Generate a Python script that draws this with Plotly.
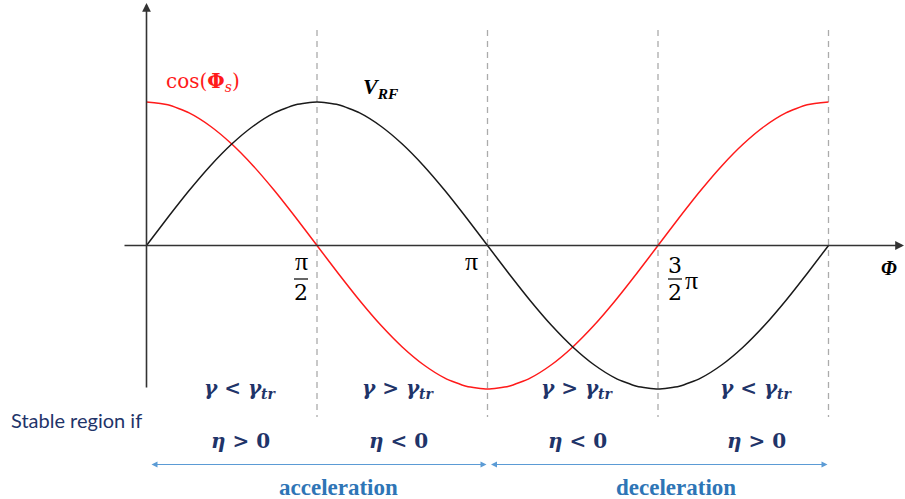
import plotly.graph_objects as go

# Phase samples in units of pi (0 .. 2pi, step pi/16)
phase = [0, 0.0625, 0.125, 0.1875, 0.25, 0.3125, 0.375, 0.4375, 0.5,
         0.5625, 0.625, 0.6875, 0.75, 0.8125, 0.875, 0.9375, 1.0,
         1.0625, 1.125, 1.1875, 1.25, 1.3125, 1.375, 1.4375, 1.5,
         1.5625, 1.625, 1.6875, 1.75, 1.8125, 1.875, 1.9375, 2.0]
# RF voltage (normalised)
v_rf = [0, 0.195, 0.383, 0.556, 0.707, 0.831, 0.924, 0.981, 1,
        0.981, 0.924, 0.831, 0.707, 0.556, 0.383, 0.195, 0,
        -0.195, -0.383, -0.556, -0.707, -0.831, -0.924, -0.981, -1,
        -0.981, -0.924, -0.831, -0.707, -0.556, -0.383, -0.195, 0]
# cos of synchronous phase
cos_phi = [1, 0.981, 0.924, 0.831, 0.707, 0.556, 0.383, 0.195, 0,
           -0.195, -0.383, -0.556, -0.707, -0.831, -0.924, -0.981, -1,
           -0.981, -0.924, -0.831, -0.707, -0.556, -0.383, -0.195, 0,
           0.195, 0.383, 0.556, 0.707, 0.831, 0.924, 0.981, 1]

# Boundaries of the four phase regions (units of pi)
region_edges = [0.5, 1.0, 1.5, 2.0]
gamma_labels = ["<", ">", ">", "<"]
eta_labels = [">", "<", "<", ">"]

W, H = 905, 499
X0, XS = 146.5, 341.0      # pixel of phase 0, pixels per pi
Y0, YS = 245.5, 143.5      # pixel of zero, pixels per unit

def px_x(p):
    return (p - X0) / XS

def px_y(p):
    return (Y0 - p) / YS

NAVY = "#1f3469"
BLUE_TXT = "#2e75b6"
BLUE_LN = "#5b9bd5"
SERIF = "Liberation Serif"
MATH = "DejaVu Serif"

fig = go.Figure()
fig.add_trace(go.Scatter(x=phase, y=cos_phi, mode="lines",
                         line=dict(color="#ff1a1a", width=1.5, shape="spline", smoothing=0.6),
                         hoverinfo="skip"))
fig.add_trace(go.Scatter(x=phase, y=v_rf, mode="lines",
                         line=dict(color="#1a1a1a", width=1.5, shape="spline", smoothing=0.6),
                         hoverinfo="skip"))

shapes = []
# dashed region separators
for e in region_edges:
    shapes.append(dict(type="line", xref="x", yref="y", x0=e, x1=e,
                       y0=px_y(30), y1=px_y(417),
                       line=dict(color="#ababab", width=1.3, dash="6px,5px"), layer="below"))
# fraction bars for pi/2 and 3/2 pi
shapes.append(dict(type="line", xref="x", yref="y", x0=px_x(294), x1=px_x(308),
                   y0=px_y(279), y1=px_y(279), line=dict(color="#000", width=1.2)))
shapes.append(dict(type="line", xref="x", yref="y", x0=px_x(668), x1=px_x(682),
                   y0=px_y(279), y1=px_y(279), line=dict(color="#000", width=1.2)))

ann = []
# axes with arrow heads
ann.append(dict(x=px_x(904), y=0, xref="x", yref="y", ax=-781, ay=0, text="",
                showarrow=True, arrowhead=2, arrowsize=1.1, arrowwidth=1.6, arrowcolor="#333"))
ann.append(dict(x=0, y=px_y(3), xref="x", yref="y", ax=0, ay=386, text="",
                showarrow=True, arrowhead=2, arrowsize=1.1, arrowwidth=1.6, arrowcolor="#333"))

def label(x, y, text, size, color="#000", family=MATH):
    ann.append(dict(x=px_x(x), y=px_y(y), xref="x", yref="y", text=text, showarrow=False,
                    font=dict(family=family, size=size, color=color),
                    xanchor="center", yanchor="middle"))

# curve labels
label(203, 82, "cos(<b>Φ</b><sub><i>s</i></sub>)", 20, "#ff1a1a")
label(381, 88, "<b><i>V</i><sub><i>RF</i></sub></b>", 22, "#000", SERIF)
# axis labels
label(301, 261, "π", 26, "#000", SERIF)
label(301, 292, "2", 22)
label(471, 261, "π", 26, "#000", SERIF)
label(675, 265, "3", 22)
label(675, 292, "2", 22)
label(691, 280, "π", 26, "#000", SERIF)
label(889, 268, "<b><i>Φ</i></b>", 20, "#000", SERIF)

# stability conditions per region
centers = [240, 398, 577, 756]
for c, g, e in zip(centers, gamma_labels, eta_labels):
    label(c, 389, "<b><i>γ</i> %s <i>γ</i><sub><i>tr</i></sub></b>" % ("&lt;" if g == "<" else "&gt;"), 20, NAVY)
    label(c, 441, "<b><i>η</i> %s 0</b>" % ("&lt;" if e == "<" else "&gt;"), 20, NAVY)

label(76, 420, "Stable region if", 20, NAVY, "Lato")

# acceleration / deceleration spans
for xa, xb in [(150, 486.5), (489.5, 827.5)]:
    ann.append(dict(x=px_x(xb), y=px_y(464.5), xref="x", yref="y",
                    ax=-(xb - xa), ay=0, text="", showarrow=True,
                    arrowside="end+start", arrowhead=2, arrowsize=1.0,
                    arrowwidth=1.2, arrowcolor=BLUE_LN))
label(338, 487, "<b>acceleration</b>", 23, BLUE_TXT, SERIF)
label(676, 487, "<b>deceleration</b>", 23, BLUE_TXT, SERIF)

fig.update_layout(
    width=W, height=H, margin=dict(l=0, r=0, t=0, b=0),
    paper_bgcolor="white", plot_bgcolor="white", showlegend=False,
    xaxis=dict(range=[px_x(0), px_x(W)], visible=False, fixedrange=True),
    yaxis=dict(range=[px_y(H), px_y(0)], visible=False, fixedrange=True),
    shapes=shapes, annotations=ann,
)
fig.write_html("out.html")
